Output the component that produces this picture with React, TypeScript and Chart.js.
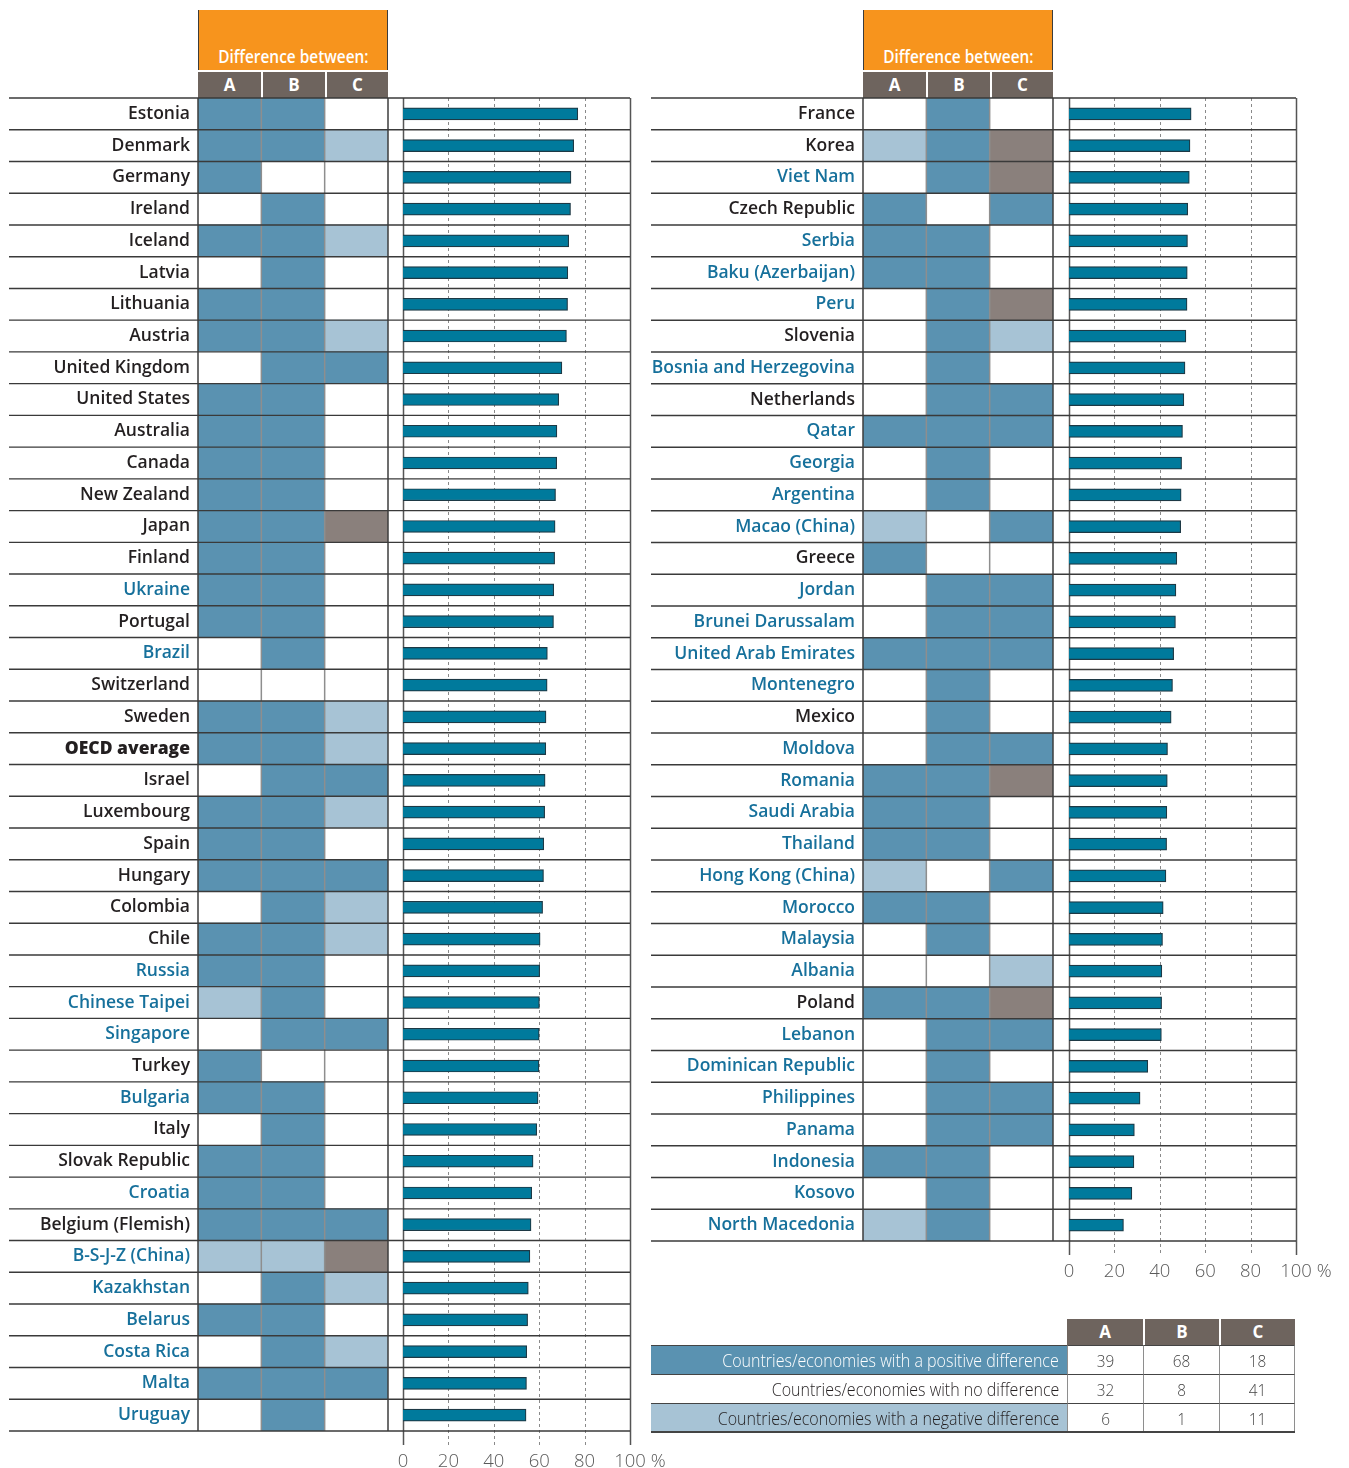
import React, { useEffect, useRef } from "react";
import { Chart, registerables } from "chart.js";

Chart.register(...registerables);

// ---------------- DATA ----------------
const leftCountries = [
  "Estonia", "Denmark", "Germany", "Ireland", "Iceland", "Latvia", "Lithuania", "Austria",
  "United Kingdom", "United States", "Australia", "Canada", "New Zealand", "Japan", "Finland",
  "Ukraine", "Portugal", "Brazil", "Switzerland", "Sweden", "OECD average", "Israel",
  "Luxembourg", "Spain", "Hungary", "Colombia", "Chile", "Russia", "Chinese Taipei",
  "Singapore", "Turkey", "Bulgaria", "Italy", "Slovak Republic", "Croatia",
  "Belgium (Flemish)", "B-S-J-Z (China)", "Kazakhstan", "Belarus", "Costa Rica", "Malta",
  "Uruguay",
];
const leftValues = [
  77.0, 75.2, 74.0, 73.8, 73.0, 72.6, 72.5, 72.0, 70.0, 68.6, 67.8, 67.7, 67.2, 67.0, 66.8,
  66.4, 66.3, 63.6, 63.5, 63.0, 62.9, 62.6, 62.4, 62.0, 61.9, 61.5, 60.4, 60.2, 60.1, 60.0,
  59.9, 59.5, 58.9, 57.3, 56.7, 56.4, 55.9, 55.2, 54.9, 54.5, 54.4, 54.2,
];
// P = positive difference, N = no difference, G = negative difference, X = not applicable
const leftA = ("PPPNPNPPNP" + "PPPPPPPNNP" + "PNPPPNPPGN" + "PPNPPPGNPN" + "PN").split("");
const leftB = ("PPNPPPPPPP" + "PPPPPPPPNP" + "PPPPPPPPPP" + "NPPPPPGPPP" + "PP").split("");
const leftC = ("NGNNGNNGPN" + "NNNXNNNNNG" + "GPGNPGGNNP" + "NNNNNPXGNG" + "PN").split("");

const rightCountries = [
  "France", "Korea", "Viet Nam", "Czech Republic", "Serbia", "Baku (Azerbaijan)", "Peru",
  "Slovenia", "Bosnia and Herzegovina", "Netherlands", "Qatar", "Georgia", "Argentina",
  "Macao (China)", "Greece", "Jordan", "Brunei Darussalam", "United Arab Emirates",
  "Montenegro", "Mexico", "Moldova", "Romania", "Saudi Arabia", "Thailand",
  "Hong Kong (China)", "Morocco", "Malaysia", "Albania", "Poland", "Lebanon",
  "Dominican Republic", "Philippines", "Panama", "Indonesia", "Kosovo", "North Macedonia",
];
const rightValues = [
  53.8, 53.3, 53.0, 52.3, 52.2, 52.1, 52.0, 51.5, 51.1, 50.6, 50.0, 49.6, 49.4, 49.2, 47.5,
  47.1, 46.9, 46.1, 45.6, 45.0, 43.4, 43.3, 43.1, 43.0, 42.7, 41.5, 41.2, 40.9, 40.8, 40.7,
  34.7, 31.3, 28.8, 28.6, 27.7, 24.0,
];
const rightA = ("NGNPPPNNNN" + "PNNGPNNPNN" + "NPPPGPNNPN" + "NNNPNG").split("");
const rightB = ("PPPNPPPPPP" + "PPPNNPPPPP" + "PPPPNPPNPP" + "PPPPPP").split("");
const rightC = ("NXXPNNXGNP" + "PNNPNPPPNN" + "PXNNPNNGXP" + "NPPNNN").split("");

const partnerNames = [
  "Ukraine", "Brazil", "Russia", "Chinese Taipei", "Singapore", "Bulgaria", "Croatia",
  "B-S-J-Z (China)", "Kazakhstan", "Belarus", "Costa Rica", "Malta", "Uruguay",
  "Viet Nam", "Serbia", "Baku (Azerbaijan)", "Peru", "Bosnia and Herzegovina", "Qatar",
  "Georgia", "Argentina", "Macao (China)", "Jordan", "Brunei Darussalam",
  "United Arab Emirates", "Montenegro", "Moldova", "Romania", "Saudi Arabia", "Thailand",
  "Hong Kong (China)", "Morocco", "Malaysia", "Albania", "Lebanon", "Dominican Republic",
  "Philippines", "Panama", "Indonesia", "Kosovo", "North Macedonia",
];
const averageName = "OECD average";

const columnLabels = ["A", "B", "C"];
const axisTicks = [0, 20, 40, 60, 80, 100];
const headerTitle = "Difference between:";

const summaryLabels = [
  "Countries/economies with a positive difference",
  "Countries/economies with no difference",
  "Countries/economies with a negative difference",
];
const summaryA = [39, 32, 6];
const summaryB = [68, 8, 1];
const summaryC = [18, 41, 11];

// ---------------- STYLE ----------------
const CELL: Record<string, string> = {
  P: "#5a92b1",
  N: "#ffffff",
  G: "#a7c3d5",
  X: "#8a807c",
};
const BLUE = "#16709b";
const BLACK = "#231f20";
const ORANGE = "#f7941d";
const HEADGRAY = "#6e645e";
const FONT = "'Open Sans', 'Noto Sans', sans-serif";

const cellGridPlugin = {
  id: "cellGrid",
  afterDatasetsDraw(chart: any, _args: any, opts: any) {
    const { ctx, chartArea } = chart;
    const xs = chart.scales.x;
    const ys = chart.scales.y;
    const n = chart.data.labels.length;
    const step = ys.getPixelForValue(1) - ys.getPixelForValue(0);
    const top = ys.getPixelForValue(0) - step / 2;
    ctx.save();
    for (let k = 0; k <= 3; k++) {
      const px = xs.getPixelForValue(k);
      ctx.beginPath();
      ctx.strokeStyle = k === 0 || k === 3 ? "#3c3c3c" : "#8e8e8e";
      ctx.lineWidth = 1.5;
      ctx.moveTo(px, top);
      ctx.lineTo(px, top + n * step);
      ctx.stroke();
    }
    for (let i = 0; i <= n; i++) {
      const py = top + i * step;
      ctx.beginPath();
      ctx.strokeStyle = "#3a3a3a";
      ctx.lineWidth = 1.4;
      ctx.moveTo(opts.x0, py);
      ctx.lineTo(chartArea.right, py);
      ctx.stroke();
    }
    ctx.restore();
  },
};

const barGridPlugin = {
  id: "barGrid",
  beforeDatasetsDraw(chart: any) {
    const { ctx, chartArea } = chart;
    const xs = chart.scales.x;
    const ys = chart.scales.y;
    const n = chart.data.labels.length;
    const step = ys.getPixelForValue(1) - ys.getPixelForValue(0);
    const top = ys.getPixelForValue(0) - step / 2;
    const bottom = top + n * step;
    ctx.save();
    axisTicks.forEach((v) => {
      const px = Math.round(xs.getPixelForValue(v)) + 0.5;
      ctx.beginPath();
      if (v === 0 || v === 100) {
        ctx.setLineDash([]);
        ctx.strokeStyle = "#555555";
        ctx.lineWidth = 1.5;
      } else {
        ctx.setLineDash([3, 3]);
        ctx.strokeStyle = "#8a8a8a";
        ctx.lineWidth = 1;
      }
      ctx.moveTo(px, top);
      ctx.lineTo(px, bottom + 14);
      ctx.stroke();
    });
    ctx.setLineDash([]);
    for (let i = 0; i <= n; i++) {
      const py = top + i * step;
      ctx.beginPath();
      ctx.strokeStyle = "#3a3a3a";
      ctx.lineWidth = 1.4;
      ctx.moveTo(0, py);
      ctx.lineTo(chartArea.right, py);
      ctx.stroke();
    }
    ctx.restore();
  },
  afterDraw(chart: any) {
    const { ctx, chartArea } = chart;
    const xs = chart.scales.x;
    ctx.save();
    ctx.font = `300 18.5px ${FONT}`;
    const w = ctx.measureText("100").width;
    ctx.fillStyle = "#5a5a5a";
    ctx.textAlign = "left";
    ctx.textBaseline = "middle";
    ctx.fillText("%", xs.getPixelForValue(100) + w / 2 + 5, chartArea.bottom + 31);
    ctx.restore();
  },
};

type GridProps = {
  left: number; top: number; width: number; height: number; labelW: number; x0: number;
  countries: string[]; a: string[]; b: string[]; c: string[];
};

function GridChart(p: GridProps) {
  const ref = useRef<HTMLCanvasElement>(null);
  useEffect(() => {
    const chart = new Chart(ref.current as HTMLCanvasElement, {
      type: "bar",
      data: {
        labels: p.countries,
        datasets: [p.a, p.b, p.c].map((arr, k) => ({
          label: columnLabels[k],
          data: p.countries.map(() => 1),
          backgroundColor: arr.map((s) => CELL[s]),
          borderWidth: 0,
          barPercentage: 1,
          categoryPercentage: 1,
          stack: "cells",
        })),
      },
      options: {
        indexAxis: "y",
        responsive: false,
        animation: false,
        events: [],
        layout: { padding: { top: 2, bottom: 2, right: 2, left: 0 } },
        plugins: {
          legend: { display: false },
          tooltip: { enabled: false },
          cellGrid: { x0: p.x0 },
        } as any,
        scales: {
          x: { type: "linear", min: 0, max: 3, stacked: true, display: false },
          y: {
            type: "category",
            stacked: true,
            grid: { display: false, drawTicks: false },
            border: { display: false },
            ticks: {
              autoSkip: false,
              padding: 8,
              color: (ctx: any) => {
                const name = p.countries[ctx.index];
                return partnerNames.includes(name) ? BLUE : BLACK;
              },
              font: (ctx: any) => ({
                family: FONT,
                size: 17.5,
                weight: p.countries[ctx.index] === averageName ? "800" : "600",
              }),
            },
            afterFit: (s: any) => {
              s.width = p.labelW;
              s.paddingTop = 0;
              s.paddingBottom = 0;
            },
          },
        },
      } as any,
      plugins: [cellGridPlugin],
    });
    return () => chart.destroy();
  }, []);
  return (
    <canvas
      ref={ref}
      width={p.width}
      height={p.height}
      style={{ position: "absolute", left: p.left, top: p.top, width: p.width, height: p.height }}
    />
  );
}

type BarProps = {
  left: number; top: number; width: number; height: number; padL: number; padR: number;
  countries: string[]; values: number[];
};

function BarChart(p: BarProps) {
  const ref = useRef<HTMLCanvasElement>(null);
  useEffect(() => {
    const chart = new Chart(ref.current as HTMLCanvasElement, {
      type: "bar",
      data: {
        labels: p.countries,
        datasets: [
          {
            data: p.values,
            backgroundColor: "#007a9c",
            borderColor: "#1d3945",
            borderWidth: 1.2,
            barThickness: 12,
          },
        ],
      },
      options: {
        indexAxis: "y",
        responsive: false,
        animation: false,
        events: [],
        layout: { padding: { left: p.padL, right: p.padR, top: 2, bottom: 0 } },
        plugins: { legend: { display: false }, tooltip: { enabled: false } },
        scales: {
          x: {
            type: "linear",
            min: 0,
            max: 100,
            grid: { display: false, drawTicks: false },
            border: { display: false },
            ticks: {
              stepSize: 20,
              padding: 20,
              color: "#5a5a5a",
              font: { family: FONT, size: 18.5, weight: "300" },
            },
            afterBuildTicks: (s: any) => {
              s.ticks = axisTicks.map((v) => ({ value: v }));
            },
            afterFit: (s: any) => {
              s.height = 44;
              s.paddingLeft = 0;
              s.paddingRight = 0;
            },
          },
          y: { type: "category", display: false },
        },
      } as any,
      plugins: [barGridPlugin],
    });
    return () => chart.destroy();
  }, []);
  return (
    <canvas
      ref={ref}
      width={p.width}
      height={p.height}
      style={{ position: "absolute", left: p.left, top: p.top, width: p.width, height: p.height }}
    />
  );
}

function Header({ left }: { left: number }) {
  const w = 190;
  const cw = w / 3;
  return (
    <>
      <div
        style={{
          position: "absolute", left, top: 10, width: w, height: 60, background: ORANGE,
          borderLeft: "1.5px solid #3c3c3c", borderRight: "1.5px solid #3c3c3c",
          boxSizing: "border-box",
        }}
      />
      <div
        style={{
          position: "absolute", left, top: 44, width: w, height: 24, lineHeight: "24px",
          textAlign: "center", color: "#fff", fontFamily: FONT, fontWeight: 600, fontSize: 17.5,
          whiteSpace: "nowrap",
        }}
      >
        <span style={{ display: "inline-block", transform: "scaleX(0.88)" }}>{headerTitle}</span>
      </div>
      {columnLabels.map((l, i) => (
        <div
          key={l}
          style={{
            position: "absolute", left: left + i * cw, top: 72, width: cw, height: 26,
            background: HEADGRAY, color: "#fff", fontFamily: FONT, fontWeight: 700, fontSize: 17,
            lineHeight: "26px", textAlign: "center",
            borderLeft: i > 0 ? "2px solid #fff" : "none", boxSizing: "border-box",
          }}
        >
          {l}
        </div>
      ))}
    </>
  );
}

function Summary() {
  const colX = [1067, 1143, 1219];
  const colW = 76;
  const rowY = [1345, 1374, 1403];
  const rowH = 29;
  const bgs = [CELL.P, "#ffffff", CELL.G];
  const fgs = ["#ffffff", BLACK, BLACK];
  const vals = [summaryA, summaryB, summaryC];
  return (
    <>
      {columnLabels.map((l, i) => (
        <div
          key={l}
          style={{
            position: "absolute", left: colX[i], top: 1319, width: colW, height: 26,
            background: HEADGRAY, color: "#fff", fontFamily: FONT, fontWeight: 700, fontSize: 17,
            lineHeight: "26px", textAlign: "center",
            borderLeft: i > 0 ? "2px solid #fff" : "none", boxSizing: "border-box",
          }}
        >
          {l}
        </div>
      ))}
      {summaryLabels.map((lab, r) => (
        <React.Fragment key={lab}>
          <div
            style={{
              position: "absolute", left: 651, top: rowY[r], width: 1067 - 651, height: rowH,
              background: bgs[r], color: fgs[r], fontFamily: FONT, fontWeight: 300, fontSize: 17.5,
              lineHeight: rowH + "px", textAlign: "right", paddingRight: 8, boxSizing: "border-box",
              borderTop: "1.4px solid #444", whiteSpace: "nowrap",
            }}
          >
            <span style={{ display: "inline-block", transform: "scaleX(0.915)", transformOrigin: "right center" }}>
              {lab}
            </span>
          </div>
          {vals.map((arr, c) => (
            <div
              key={c}
              style={{
                position: "absolute", left: colX[c], top: rowY[r], width: colW, height: rowH,
                background: "#fff", color: "#444", fontFamily: FONT, fontWeight: 300, fontSize: 16.5,
                lineHeight: rowH + "px", textAlign: "center", boxSizing: "border-box",
                borderTop: "1.4px solid #444", borderLeft: "1px solid #8e8e8e",
                borderRight: c === 2 ? "1px solid #8e8e8e" : "none",
              }}
            >
              <span style={{ display: "inline-block", transform: "scaleX(0.93)" }}>{arr[r]}</span>
            </div>
          ))}
        </React.Fragment>
      ))}
      <div style={{ position: "absolute", left: 651, top: 1431, width: 1295 - 651, height: 1.5, background: "#444" }} />
    </>
  );
}

export default function App() {
  const lh = leftCountries.length * 31.738;
  const rh = rightCountries.length * 31.75;
  return (
    <div
      style={{
        position: "absolute", left: 0, top: 0, width: 1349, height: 1468, overflow: "hidden",
        background: "#fff", fontFamily: FONT,
      }}
    >
      <Header left={198} />
      <Header left={863} />
      <GridChart
        left={0} top={96} width={390} height={Math.round(lh) + 4} labelW={198} x0={9}
        countries={leftCountries} a={leftA} b={leftB} c={leftC}
      />
      <BarChart
        left={388} top={96} width={300} height={Math.round(lh) + 46} padL={15} padR={58}
        countries={leftCountries} values={leftValues}
      />
      <GridChart
        left={640} top={96} width={415} height={Math.round(rh) + 4} labelW={223} x0={11}
        countries={rightCountries} a={rightA} b={rightB} c={rightC}
      />
      <BarChart
        left={1053} top={96} width={296} height={Math.round(rh) + 46} padL={16} padR={53}
        countries={rightCountries} values={rightValues}
      />
      <Summary />
    </div>
  );
}
